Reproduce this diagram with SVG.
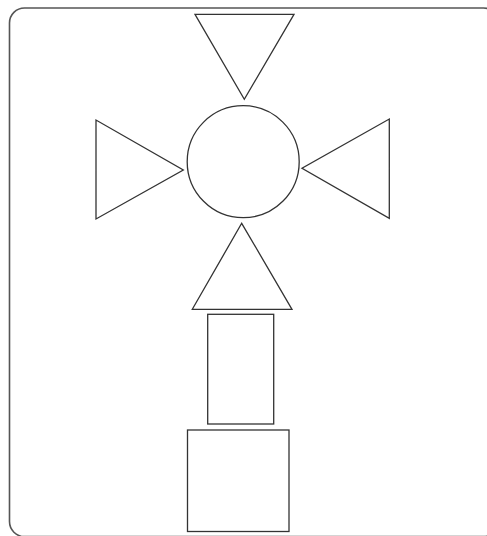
<svg xmlns="http://www.w3.org/2000/svg" width="487" height="536" viewBox="0 0 487 536">
<style>
.s{fill:#fff;stroke:#333;stroke-width:1.3}
.frame{fill:#fff;stroke:#555;stroke-width:1.6}
</style>
<rect width="487" height="536" fill="#fff"/>
<rect class="frame" x="9.5" y="8" width="489" height="528.6" rx="15"/>
<g id="tri-top"><polygon class="s" points="195,14.3 294,14.3 244.3,99.3"/></g>
<g id="circle"><circle class="s" cx="243.2" cy="161.7" r="56"/></g>
<g id="tri-left"><polygon class="s" points="96,120 96,219 183.3,170"/></g>
<g id="tri-right"><polygon class="s" points="389.3,119 389.3,218.3 302,168.3"/></g>
<g id="tri-bottom"><polygon class="s" points="241.7,223.3 292,309.3 192.3,309.3"/></g>
<g id="rect1"><rect class="s" x="207.7" y="314.3" width="66" height="109.7"/></g>
<g id="rect2"><rect class="s" x="187.5" y="430" width="101.5" height="101.5"/></g>
<g id="connectors"></g>
</svg>
